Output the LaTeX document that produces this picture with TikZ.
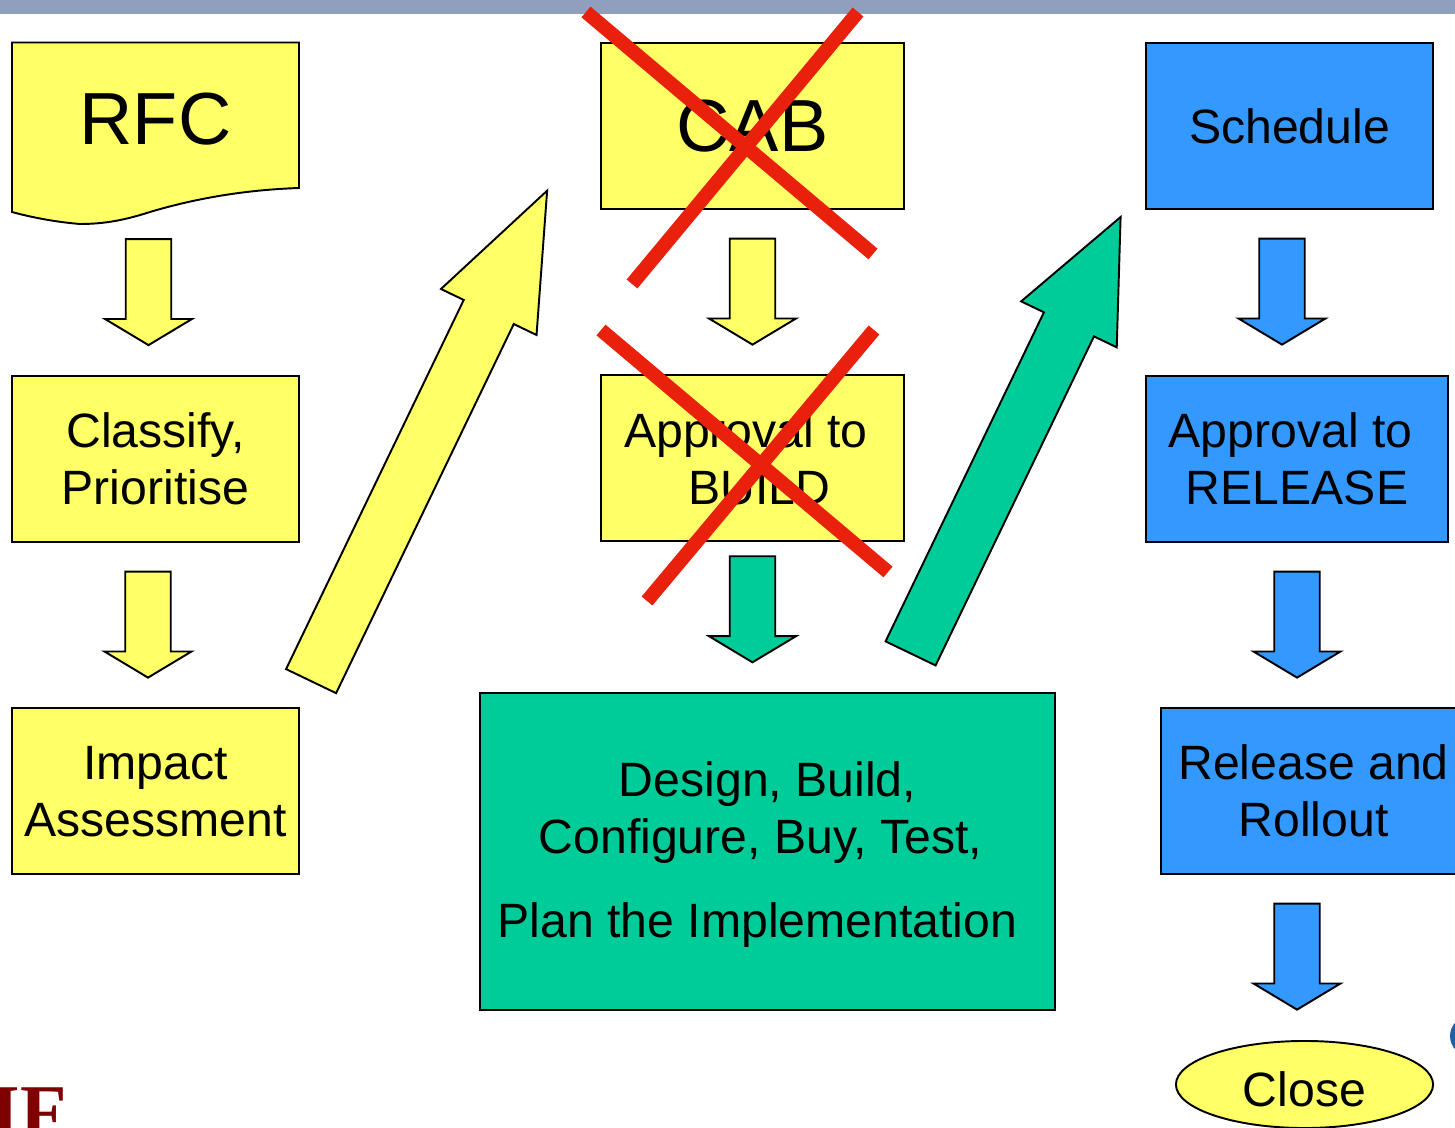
\documentclass[tikz,border=0pt]{standalone}
\usepackage{fontspec}
\setmainfont{Liberation Sans}
\newfontfamily\logofont{Liberation Serif}
\usetikzlibrary{
  positioning, shapes.geometric, shapes.arrows
}
\definecolor{boxyellow}{HTML}{FFFF66}
\definecolor{boxblue}{HTML}{3399FF}
\definecolor{boxgreen}{HTML}{00CC99}
\definecolor{barblue}{HTML}{919FBF}
\definecolor{crossred}{HTML}{E8200C}
\definecolor{logored}{HTML}{7F0000}
\definecolor{logoblue}{HTML}{1F5FA8}
\tikzset{
  box/.style={draw=black,line width=0.55pt,rectangle,inner sep=0pt,outer sep=0pt,
    minimum height=1.66cm,align=center,font=\fontsize{13.7}{16.2}\selectfont},
  downarrow/.style={draw=black,line width=0.55pt,single arrow,inner xsep=0pt,inner ysep=0.215cm,outer sep=0pt,
    rotate=-90,anchor=tail,minimum height=1.06cm,minimum width=0.87cm,
    single arrow head extend=0.205cm,single arrow tip angle=118},
  bigarrow/.style={draw=black,line width=0.55pt,single arrow,inner xsep=0pt,inner ysep=0.265cm,outer sep=0pt,
    rotate=64.3,anchor=tail,minimum width=1.06cm,single arrow head extend=0.25cm},
  redcross/.style={draw=crossred,line width=0.14cm}
}
\begin{document}
\begin{tikzpicture}[x=0.01cm,y=-0.01cm,node distance=3.32cm,on grid]
  \useasboundingbox (0,0) rectangle (1455,1128);
  \fill[barblue] (0,0) rectangle (1455,14.5);

  \draw[fill=boxyellow,line width=0.55pt] (12,42.5) -- (299,42.5) -- (299,188)
    .. controls (240,190) and (190,200) .. (150,212)
    .. controls (125,220) and (105,224) .. (80,224)
    .. controls (55,222) and (30,217) .. (12,212) -- cycle;
  \node[minimum width=2.87cm,minimum height=1.46cm,inner sep=0pt,outer sep=0pt,
    font=\fontsize{21}{24}\selectfont] (rfc) at (155.5,119) {RFC};
  \node[box,fill=boxyellow,minimum width=2.86cm,text depth=-0.01cm] (classify) at (155.5,459) {Classify,\\Prioritise};
  \node[box,fill=boxyellow,minimum width=2.86cm,text depth=-0.07cm] (impact) [below=of classify] {Impact\\Assessment};

  \node[box,fill=boxyellow,minimum width=3.02cm,text depth=-0.06cm,font=\fontsize{21}{24}\selectfont] (cab) at (752.5,126) {CAB};
  \node[box,fill=boxyellow,minimum width=3.02cm,text depth=-0.01cm] (buildok) [below=of cab]
    {Approval to\hspace*{0.13cm}\\\hspace*{0.14cm}BUILD};
  \node[box,fill=boxgreen,minimum width=5.74cm,minimum height=3.17cm,text depth=0.03cm] (design) at (767.5,851.5)
    {Design, Build,\\\hspace*{-0.14cm}Configure, Buy, Test,\\[0.27cm]\hspace*{-0.2cm}Plan the Implementation};

  \node[box,fill=boxblue,minimum width=2.86cm,text depth=-0.07cm] (schedule) at (1289.5,126) {Schedule};
  \node[box,fill=boxblue,minimum width=3.01cm] (releaseok) at (1297,459)
    {Approval to\hspace*{0.13cm}\\RELEASE};
  \node[box,fill=boxblue,minimum width=3.04cm,text depth=-0.07cm] (rollout) at (1313.5,791) {Release and\\Rollout};
  \node[ellipse,draw=black,line width=0.55pt,fill=boxyellow,inner sep=0pt,outer sep=0pt,
    minimum width=2.57cm,minimum height=0.87cm,font=\fontsize{13.7}{16.2}\selectfont] (close) at (1304.5,1084.5) {\raisebox{-0.215cm}[0pt][0pt]{Close}};

  \node[downarrow,fill=boxyellow] (rfcarrow) at ([xshift=-0.07cm,yshift=-0.47cm]rfc.south) {};
  \node[downarrow,fill=boxyellow] (classifyarrow) at ([xshift=-0.075cm,yshift=-0.295cm]classify.south) {};
  \node[downarrow,fill=boxyellow] (cabarrow) at ([yshift=-0.295cm]cab.south) {};
  \node[downarrow,fill=boxgreen] (buildarrow) at ([yshift=-0.15cm]buildok.south) {};
  \node[downarrow,fill=boxblue] (schedulearrow) at ([xshift=-0.075cm,yshift=-0.295cm]schedule.south) {};
  \node[downarrow,fill=boxblue] (releasearrow) at ([yshift=-0.295cm]releaseok.south) {};
  \node[downarrow,fill=boxblue] (closearrow) at ([xshift=-0.165cm,yshift=-0.295cm]rollout.south) {};

  \node[bigarrow,fill=boxyellow,minimum height=5.44cm,single arrow tip angle=43]
    (impactarrow) at ([xshift=1.555cm,yshift=0.27cm]impact.north) {};
  \node[bigarrow,fill=boxgreen,minimum height=4.84cm,single arrow tip angle=48]
    (designarrow) at ([xshift=1.43cm,yshift=0.395cm]design.north) {};

  \draw[redcross] (586,12) -- (873,254);
  \draw[redcross] (858,12) -- (632,284);
  \draw[redcross] (601,330) -- (888,572);
  \draw[redcross] (874,330) -- (647,601);

  \node[anchor=base west,inner sep=0pt,text=logored,font=\logofont\bfseries\fontsize{21.6}{24}\selectfont] (logo) at (-10,1137) {IF};
  \fill[logoblue] (1470,1036) circle (20);
\end{tikzpicture}
\end{document}
